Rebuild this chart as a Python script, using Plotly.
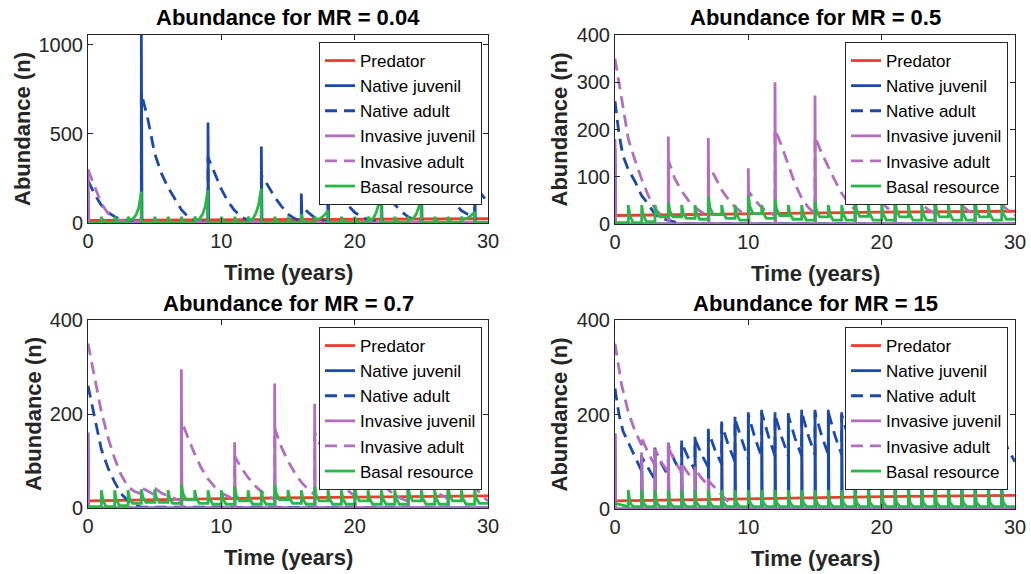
import plotly.graph_objects as go

# ---------------- data ----------------
NAMES = ["Predator", "Native juvenil", "Native adult", "Invasive juvenil", "Invasive adult", "Basal resource"]
TITLES = ["Abundance for MR = 0.04", "Abundance for MR = 0.5", "Abundance for MR = 0.7", "Abundance for MR = 15"]
X_TICKS = [0, 10, 20, 30]
Y_TICKS = [[0, 500, 1000], [0, 100, 200, 300, 400], [0, 200, 400], [0, 200, 400]]
Y_MAX = [1056, 400, 400, 400]

# Predator
p1_pred_t = [0, 30]
p1_pred = [14, 24]
p2_pred_t = [0, 10, 20, 30]
p2_pred = [18, 22, 25, 27]
p3_pred_t = [0, 10, 20, 30]
p3_pred = [15, 20, 23, 26]
p4_pred_t = [0, 10, 20, 30]
p4_pred = [17, 22, 26, 29]

# Native juvenile
p1_nj_t = [0, 0, 0.05, 4, 4, 4.05, 9, 9, 9.05, 13, 13, 13.05, 16, 16, 16.05, 18, 18, 18.05,
           22, 22, 22.05, 25, 25, 25.05, 29, 29, 29.05, 30]
p1_nj = [0, 180, 0, 0, 1060, 0, 0, 565, 0, 0, 430, 0, 0, 165, 0, 0, 330, 0,
         0, 300, 0, 0, 380, 0, 0, 300, 0, 0]
p2_nj_t = [0, 0, 0.05, 30]
p2_nj = [0, 160, 0, 0]
p3_nj_t = [0, 0, 0.05, 30]
p3_nj = [0, 160, 0, 0]
p4_nj_t = [0, 0, 0.05, 2, 2, 2.05, 3, 3, 3.05, 4, 4, 4.05, 5, 5, 5.05, 6, 6, 6.05, 7, 7, 7.05,
           8, 8, 8.05, 9, 9, 9.05, 10, 10, 10.05, 11, 11, 11.05, 12, 12, 12.05, 13, 13, 13.05,
           14, 14, 14.05, 15, 15, 15.05, 16, 16, 16.05, 17, 17, 17.05, 18, 18, 18.05,
           19, 19, 19.05, 20, 20, 20.05, 21, 21, 21.05, 22, 22, 22.05, 23, 23, 23.05,
           24, 24, 24.05, 25, 25, 25.05, 26, 26, 26.05, 27, 27, 27.05, 28, 28, 28.05,
           29, 29, 29.05, 30]
p4_nj = [0, 160, 0, 0, 115, 0, 0, 130, 0, 0, 140, 0, 0, 145, 0, 0, 153, 0, 0, 170, 0,
         0, 185, 0, 0, 195, 0, 0, 205, 0, 0, 210, 0, 0, 205, 0, 0, 203, 0,
         0, 210, 0, 0, 210, 0, 0, 210, 0, 0, 205, 0, 0, 203, 0,
         0, 200, 0, 0, 197, 0, 0, 193, 0, 0, 190, 0, 0, 185, 0,
         0, 181, 0, 0, 177, 0, 0, 173, 0, 0, 169, 0, 0, 165, 0,
         0, 162, 0, 0]

# Native adult
p1_na_t = [0, 0.5, 1, 1.5, 2, 2.5, 3, 4, 4, 4.5, 5, 5.5, 6, 6.5, 7, 7.5, 8, 9,
           9, 9.5, 10, 10.5, 11, 11.5, 12, 13, 13, 13.5, 14, 14.5, 15, 15.5, 16,
           16, 16.5, 17, 17.5, 18, 18, 18.5, 19, 19.5, 20, 20.5, 21, 22,
           22, 22.5, 23, 23.5, 24, 24.5, 25, 25, 25.5, 26, 26.5, 27, 27.5, 28, 28.5, 29,
           29, 29.5, 30]
p1_na = [240, 160, 100, 60, 35, 20, 10, 4, 730, 580, 390, 280, 200, 140, 75, 35, 15, 4,
         370, 280, 190, 120, 70, 35, 15, 4, 270, 210, 145, 95, 50, 25, 10,
         100, 60, 30, 15, 7, 280, 215, 155, 100, 60, 35, 18, 6,
         230, 165, 105, 65, 35, 18, 7, 380, 300, 240, 195, 150, 110, 70, 45, 25,
         210, 160, 115]
p2_na_t = [0, 0.3, 0.6, 1, 1.5, 2, 2.5, 3, 3.5, 4, 4.7, 5, 30]
p2_na = [260, 190, 145, 115, 90, 60, 42, 20, 12, 8, 3, 0, 0]
p3_na_t = [0, 0.5, 1, 1.5, 2, 2.5, 3, 3.5, 4, 30]
p3_na = [260, 190, 125, 85, 55, 30, 15, 6, 2, 0]
p4_na_t = [0, 0.3, 0.6, 1, 1.5, 2,
           2, 2.5, 3, 3, 3.5, 4, 4, 4.5, 5, 5, 5.5, 6, 6, 6.5, 7, 7, 7.5, 8, 8, 8.5, 9,
           9, 9.5, 10, 10, 10.5, 11, 11, 11.5, 12, 12, 12.5, 13, 13, 13.5, 14, 14, 14.5, 15,
           15, 15.5, 16, 16, 16.5, 17, 17, 17.5, 18, 18, 18.5, 19, 19, 19.5, 20, 20, 20.5, 21,
           21, 21.5, 22, 22, 22.5, 23, 23, 23.5, 24, 24, 24.5, 25, 25, 25.5, 26, 26, 26.5, 27,
           27, 27.5, 28, 28, 28.5, 29, 29, 29.5, 30]
p4_na = [255, 200, 165, 140, 110, 80,
         110, 85, 62, 125, 95, 70, 135, 100, 75, 140, 108, 82, 148, 115, 88, 165, 125, 95, 180, 135, 100,
         190, 145, 105, 200, 150, 110, 205, 155, 112, 200, 152, 112, 198, 150, 112, 205, 155, 115,
         205, 155, 115, 205, 155, 115, 200, 152, 112, 198, 150, 110, 195, 148, 110, 192, 145, 108,
         188, 142, 106, 185, 140, 104, 180, 137, 102, 176, 134, 100, 172, 131, 98, 168, 128, 96,
         164, 125, 95, 160, 122, 93, 157, 125, 100]

# Invasive juvenile
p1_ij_t = [0, 0, 0.05, 30]
p1_ij = [0, 300, 0, 0]
p2_ij_t = [0, 0, 0.05, 4, 4, 4.05, 7, 7, 7.05, 10, 10, 10.05, 12, 12, 12.05, 15, 15, 15.05,
           18, 18, 18.05, 21, 21, 21.05, 24, 24, 24.05, 27, 27, 27.05, 30]
p2_ij = [0, 180, 0, 0, 185, 0, 0, 182, 0, 0, 118, 0, 0, 300, 0, 0, 272, 0,
         0, 250, 0, 0, 220, 0, 0, 200, 0, 0, 230, 0, 0]
p3_ij_t = [0, 0, 0.05, 7, 7, 7.05, 11, 11, 11.05, 14, 14, 14.05, 17, 17, 17.05,
           20, 20, 20.05, 24, 24, 24.05, 27, 27, 27.05, 30]
p3_ij = [0, 160, 0, 0, 295, 0, 0, 140, 0, 0, 265, 0, 0, 222, 0,
         0, 200, 0, 0, 180, 0, 0, 190, 0, 0]
p4_ij_t = [0, 0, 0.05, 2, 2, 2.05, 3, 3, 3.05, 4, 4, 4.05, 5, 5, 5.05, 6, 6, 6.05, 7, 7, 7.05, 30]
p4_ij = [0, 160, 0, 0, 120, 0, 0, 128, 0, 0, 140, 0, 0, 93, 0, 0, 90, 0, 0, 65, 0, 0]

# Invasive adult
p1_ia_t = [0, 0.5, 1, 1.5, 2, 2.5, 3, 3.5, 4, 5, 8, 8.5, 9, 12, 12.5, 13, 16, 16.5, 17,
           20.5, 21, 21.5, 24, 24.5, 25, 30]
p1_ia = [300, 200, 110, 55, 25, 12, 10, 10, 8, 2, 2, 10, 2, 2, 10, 2, 2, 8, 2,
         2, 10, 2, 2, 10, 2, 2]
p2_ia_t = [0, 0.5, 1, 1.5, 2, 2.5, 3, 3.5, 4,
           4, 4.5, 5, 5.5, 6, 6.5, 7, 7, 7.5, 8, 8.5, 9, 9.5, 10,
           10, 10.5, 11, 11.5, 12, 12, 12.5, 13, 13.5, 14, 14.5, 15,
           15, 15.5, 16, 16.5, 17, 17.5, 18, 18, 18.5, 19, 19.5, 20, 20.5, 21,
           21, 21.5, 22, 22.5, 23, 23.5, 24, 24, 24.5, 25, 25.5, 26, 26.5, 27,
           27, 27.5, 28, 28.5, 29, 29.5, 30]
p2_ia = [350, 260, 180, 135, 95, 60, 32, 18, 12,
         135, 95, 70, 50, 35, 25, 18, 125, 100, 72, 52, 36, 25, 18,
         70, 50, 35, 25, 18, 200, 165, 125, 85, 55, 35, 22,
         185, 150, 120, 92, 65, 45, 30, 170, 125, 90, 65, 45, 32, 22,
         140, 105, 80, 60, 42, 30, 22, 130, 100, 75, 55, 40, 28, 20,
         150, 115, 85, 62, 42, 28, 18]
p3_ia_t = [0, 0.5, 1, 1.5, 2, 2.5, 3, 3.5, 4, 4.1, 4.5, 5, 5.1, 5.5, 6, 6.5, 7,
           7, 7.5, 8, 8.5, 9, 9.5, 10, 10.5, 11,
           11, 11.5, 12, 12.5, 13, 13.5, 14,
           14, 14.5, 15, 15.5, 16, 16.5, 17,
           17, 17.5, 18, 18.5, 19, 19.5, 20,
           20, 20.5, 21, 21.5, 22, 22.5, 23, 23.5, 24,
           24, 24.5, 25, 25.5, 26, 26.5, 27,
           27, 27.5, 28, 28.5, 29, 29.5, 30]
p3_ia = [350, 275, 205, 150, 105, 70, 45, 35, 30, 42, 35, 28, 40, 32, 25, 20, 15,
         185, 150, 115, 85, 62, 45, 32, 25, 18,
         110, 85, 65, 48, 35, 25, 18,
         170, 130, 100, 75, 55, 40, 28,
         160, 128, 98, 72, 52, 37, 26,
         140, 110, 85, 65, 50, 38, 28, 20, 15,
         120, 90, 68, 50, 37, 27, 20,
         140, 110, 85, 62, 45, 28, 15]
p4_ia_t = [0, 0.5, 1, 1.5, 2, 2, 2.5, 3, 3, 3.5, 4, 4, 4.5, 5, 5, 5.5, 6, 6, 6.5, 7,
           7, 7.5, 8, 8.5, 9, 9.5, 30]
p4_ia = [350, 262, 205, 165, 135, 150, 118, 92, 125, 98, 78, 130, 100, 78, 95, 75, 58, 85, 65, 50,
         60, 45, 28, 15, 6, 0, 0]

# Basal resource
p1_bas_t = [0,
            1, 1, 1.12, 1.35, 2, 2, 2.12, 2.35,
            3, 3, 3.12, 3.35, 3.6, 3.8, 4, 4,
            5, 5, 5.12, 5.35, 6, 6, 6.12, 6.35, 7, 7, 7.12, 7.35,
            8, 8, 8.12, 8.35, 8.6, 8.8, 9, 9,
            10, 10, 10.12, 10.35, 11, 11, 11.12, 11.35,
            12, 12, 12.12, 12.35, 12.6, 12.8, 13, 13,
            14, 14, 14.12, 14.35, 15, 15, 15.12, 15.35, 16, 16, 16.12, 16.35,
            17, 17, 17.12, 17.4, 17.7, 18, 18,
            19, 19, 19.12, 19.35, 20, 20, 20.12, 20.35,
            21, 21, 21.12, 21.35, 21.6, 21.8, 22, 22,
            23, 23, 23.12, 23.35,
            24, 24, 24.12, 24.35, 24.6, 24.8, 25, 25,
            26, 26, 26.12, 26.35, 27, 27, 27.12, 27.35,
            28, 28, 28.12, 28.4, 28.7, 29, 29,
            30]
p1_bas = [2,
          2, 35, 12, 3, 3, 35, 12, 3,
          3, 35, 20, 22, 45, 85, 176, 2,
          2, 35, 12, 3, 3, 35, 12, 3, 3, 35, 12, 3,
          3, 35, 20, 22, 50, 95, 185, 2,
          2, 35, 12, 3, 3, 35, 12, 3,
          3, 35, 20, 22, 55, 105, 193, 2,
          2, 35, 12, 3, 3, 35, 12, 3, 3, 50, 15, 3,
          3, 35, 20, 25, 42, 70, 2,
          2, 35, 12, 3, 3, 35, 12, 3,
          3, 35, 20, 22, 55, 105, 193, 2,
          2, 35, 12, 3,
          3, 35, 20, 22, 48, 85, 156, 2,
          2, 35, 12, 3, 3, 35, 12, 3,
          3, 35, 20, 25, 40, 62, 2,
          2]

bas_t = [0,
         1, 1, 1.12, 1.35, 2, 2, 2.12, 2.35, 3, 3, 3.12, 3.35, 4, 4, 4.12, 4.35, 5, 5, 5.12, 5.35,
         6, 6, 6.12, 6.35, 7, 7, 7.12, 7.35, 8, 8, 8.12, 8.35, 9, 9, 9.12, 9.35, 10, 10, 10.12, 10.35,
         11, 11, 11.12, 11.35, 12, 12, 12.12, 12.35, 13, 13, 13.12, 13.35, 14, 14, 14.12, 14.35,
         15, 15, 15.12, 15.35, 16, 16, 16.12, 16.35, 17, 17, 17.12, 17.35, 18, 18, 18.12, 18.35,
         19, 19, 19.12, 19.35, 20, 20, 20.12, 20.35, 21, 21, 21.12, 21.35, 22, 22, 22.12, 22.35,
         23, 23, 23.12, 23.35, 24, 24, 24.12, 24.35, 25, 25, 25.12, 25.35, 26, 26, 26.12, 26.35,
         27, 27, 27.12, 27.35, 28, 28, 28.12, 28.35, 29, 29, 29.12, 29.35,
         30]
p2_bas = [3,
          3, 40, 18, 3, 3, 40, 19, 5, 5, 40, 25, 15, 15, 45, 27, 15, 15, 40, 23, 12,
          12, 40, 22, 10, 10, 58, 35, 20, 20, 40, 23, 12, 12, 40, 21, 8, 8, 60, 37, 22,
          22, 40, 23, 12, 12, 52, 32, 18, 18, 40, 22, 10, 10, 40, 21, 8,
          8, 47, 28, 15, 15, 40, 21, 8, 8, 40, 21, 8, 8, 52, 30, 16,
          16, 40, 21, 8, 8, 40, 21, 8, 8, 50, 29, 15, 15, 40, 21, 8,
          8, 40, 21, 8, 8, 50, 29, 15, 15, 40, 21, 8, 8, 40, 21, 8,
          8, 50, 29, 15, 15, 40, 21, 8, 8, 40, 22, 10,
          10]
p3_bas = [3,
          3, 38, 17, 3, 3, 38, 18, 5, 5, 38, 21, 10, 10, 40, 23, 12, 12, 40, 23, 12,
          12, 38, 21, 10, 10, 50, 31, 18, 18, 38, 21, 10, 10, 38, 20, 8, 8, 38, 20, 8,
          8, 45, 27, 15, 15, 38, 20, 8, 8, 38, 20, 8, 8, 50, 31, 18,
          18, 38, 21, 10, 10, 38, 20, 8, 8, 46, 27, 15, 15, 38, 20, 8,
          8, 38, 20, 8, 8, 46, 27, 15, 15, 38, 20, 8, 8, 38, 20, 8,
          8, 38, 20, 8, 8, 46, 27, 15, 15, 38, 20, 8, 8, 38, 20, 8,
          8, 46, 27, 15, 15, 38, 20, 8, 8, 38, 21, 10,
          10]
p4_bas = [12,
          5, 40, 14, 5, 5, 40, 14, 5, 5, 40, 14, 5, 5, 40, 14, 5, 5, 40, 14, 5,
          5, 40, 14, 5, 5, 40, 14, 5, 5, 40, 14, 5, 5, 40, 14, 5, 5, 40, 14, 5,
          5, 40, 14, 5, 5, 40, 14, 5, 5, 40, 14, 5, 5, 40, 14, 5,
          5, 40, 14, 5, 5, 40, 14, 5, 5, 40, 14, 5, 5, 40, 14, 5,
          5, 40, 14, 5, 5, 40, 14, 5, 5, 40, 14, 5, 5, 40, 14, 5,
          5, 40, 14, 5, 5, 40, 14, 5, 5, 40, 14, 5, 5, 40, 14, 5,
          5, 40, 14, 5, 5, 40, 14, 5, 5, 40, 14, 5,
          5]

PANELS = [
    [(p1_pred_t, p1_pred), (p1_nj_t, p1_nj), (p1_na_t, p1_na), (p1_ij_t, p1_ij), (p1_ia_t, p1_ia), (p1_bas_t, p1_bas)],
    [(p2_pred_t, p2_pred), (p2_nj_t, p2_nj), (p2_na_t, p2_na), (p2_ij_t, p2_ij), (p2_ia_t, p2_ia), (bas_t, p2_bas)],
    [(p3_pred_t, p3_pred), (p3_nj_t, p3_nj), (p3_na_t, p3_na), (p3_ij_t, p3_ij), (p3_ia_t, p3_ia), (bas_t, p3_bas)],
    [(p4_pred_t, p4_pred), (p4_nj_t, p4_nj), (p4_na_t, p4_na), (p4_ij_t, p4_ij), (p4_ia_t, p4_ia), (bas_t, p4_bas)],
]
for pi, p in enumerate(PANELS):
    for si, (t, v) in enumerate(p):
        assert len(t) == len(v), (pi, si, len(t), len(v))

# ---------------- style ----------------
W, H = 1031, 574
FONT = "Arial, 'Liberation Sans', Helvetica, sans-serif"
AXC = "#262626"
COLORS = ["#ef3d2c", "#1d4aa9", "#1d4aa9", "#b26ebf", "#b26ebf", "#2bb64a"]
DASH = [None, None, "12px,7px", None, "12px,7px", None]
LW = 2.8

# pixel boxes of the four axes: (left, right, top, bottom)
BOX = [(88, 488, 35, 223), (615, 1015, 35, 224), (88, 488, 320, 508), (615, 1015, 320, 509)]
YTITLE_X = [22, 559, 33, 559]
TITLE_Y = [18, 18, 303, 303]
XTITLE_Y = [272, 273, 557, 558]
LEG = [(482, 42), (1008, 42), (482, 327), (1008, 327)]

fig = go.Figure()
annotations = []
layout = dict(width=W, height=H, autosize=False,
              margin=dict(l=0, r=0, t=0, b=0, pad=0, autoexpand=False),
              paper_bgcolor="white", plot_bgcolor="white", font=dict(family=FONT, color=AXC))

for i, series in enumerate(PANELS):
    sfx = "" if i == 0 else str(i + 1)
    leg = "legend" + sfx
    for j, (t, v) in enumerate(series):
        line = dict(color=COLORS[j], width=LW)
        if DASH[j]:
            line["dash"] = DASH[j]
        fig.add_trace(go.Scatter(x=t, y=v, mode="lines", name=NAMES[j], line=line,
                                 xaxis="x" + sfx, yaxis="y" + sfx, legend=leg,
                                 hoverinfo="skip"))
    l, r, tp, bt = BOX[i]
    common = dict(showline=True, linecolor=AXC, linewidth=1, mirror="ticks", ticks="inside",
                  ticklen=5, tickcolor=AXC, tickwidth=1, showgrid=False, zeroline=False,
                  automargin=False,
                  tickfont=dict(size=20, family=FONT, color=AXC), fixedrange=True)
    layout["xaxis" + sfx] = dict(common, domain=[l / W, r / W], range=[0, 30], tickvals=X_TICKS,
                                 anchor="y" + sfx)
    layout["yaxis" + sfx] = dict(common, domain=[1 - bt / H, 1 - tp / H], range=[0, Y_MAX[i]],
                                 tickvals=Y_TICKS[i], anchor="x" + sfx)
    lx, ly = LEG[i]
    layout[leg] = dict(x=lx / W, y=1 - ly / H, xanchor="right", yanchor="top", bgcolor="white",
                       bordercolor=AXC, borderwidth=1, font=dict(size=17, family=FONT, color="black"),
                       itemwidth=30, tracegroupgap=0)
    cx = (l + r) / 2
    annotations.append(dict(text="<b>%s</b>" % TITLES[i], x=cx / W, y=1 - TITLE_Y[i] / H,
                            xref="paper", yref="paper", showarrow=False, xanchor="center", yanchor="middle",
                            font=dict(size=22, family=FONT, color="black")))
    annotations.append(dict(text="<b>Time (years)</b>", x=cx / W, y=1 - XTITLE_Y[i] / H,
                            xref="paper", yref="paper", showarrow=False, xanchor="center", yanchor="middle",
                            font=dict(size=22, family=FONT, color=AXC)))
    annotations.append(dict(text="<b>Abundance (n)</b>", x=YTITLE_X[i] / W, y=1 - (tp + bt) / 2 / H,
                            xref="paper", yref="paper", showarrow=False, xanchor="center", yanchor="middle",
                            textangle=-90, font=dict(size=22, family=FONT, color=AXC)))

layout["annotations"] = annotations
fig.update_layout(**layout)
fig.write_html("out.html", config={"displayModeBar": False},
               post_script="document.body.style.margin='0';document.body.style.overflow='hidden';")
